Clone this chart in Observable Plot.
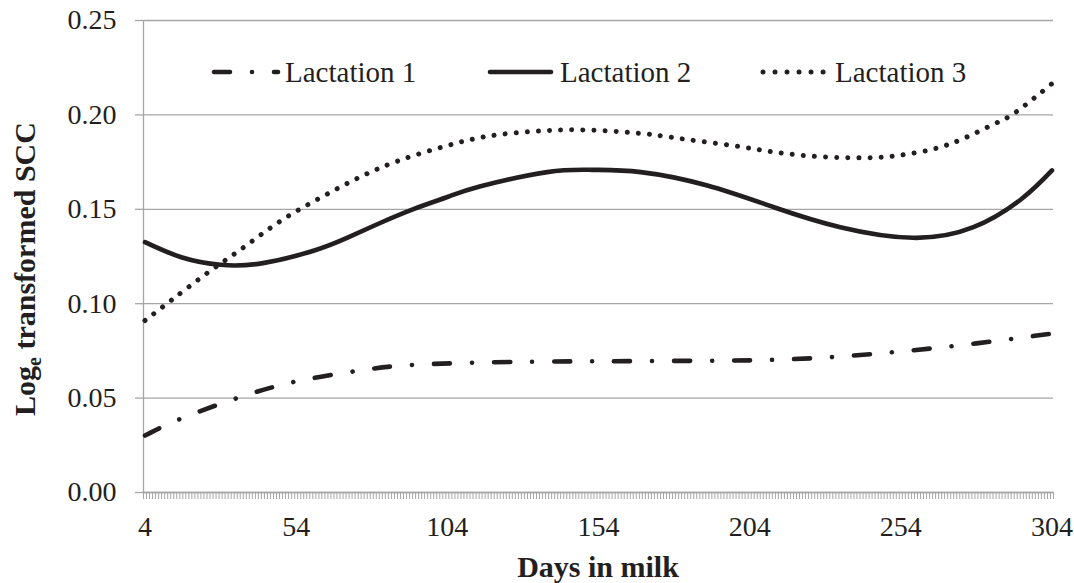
<!DOCTYPE html>
<html>
<head>
<meta charset="utf-8">
<script src="https://cdn.jsdelivr.net/npm/d3@7"></script>
<script src="https://cdn.jsdelivr.net/npm/@observablehq/plot@0.6"></script>
<style>
  html, body { margin: 0; padding: 0; background: #fff; }
  #chart { width: 1074px; height: 583px; }
</style>
</head>
<body>
<div id="chart"></div>
<script>
// ---- data ----
const seriesNames = ["Lactation 1", "Lactation 2", "Lactation 3"];

const lact1Days = [4, 16, 35, 54, 75, 95, 128, 154, 179, 204, 229, 254, 279, 304];
const lact1Vals = [0.0302, 0.0392, 0.0503, 0.0588, 0.0646, 0.0678, 0.0692, 0.0695, 0.0697, 0.0700, 0.0715, 0.0747, 0.0790, 0.0842];

const lact2Days = [4, 16, 29, 43, 60, 71, 81, 93, 104, 115, 137, 152, 168, 190, 212, 234, 258, 278, 294, 304];
const lact2Vals = [0.1326, 0.1246, 0.1206, 0.1215, 0.1282, 0.1350, 0.1422, 0.1502, 0.1565, 0.1622, 0.1697, 0.1709, 0.1697, 0.1626, 0.1511, 0.1405, 0.1349, 0.1405, 0.1556, 0.1706];

const lact3Days = [4, 13, 25, 37, 49, 62, 75, 88, 103, 117, 132, 147, 162, 173, 184, 199, 213, 228, 243, 254, 265, 275, 285, 292, 304];
const lact3Vals = [0.0911, 0.1022, 0.1167, 0.1303, 0.1440, 0.1561, 0.1670, 0.1758, 0.1833, 0.1886, 0.1912, 0.1921, 0.1910, 0.1893, 0.1868, 0.1836, 0.1801, 0.1778, 0.1773, 0.1787, 0.1820, 0.1877, 0.1953, 0.2014, 0.2166];

const xTickLabels = [4, 54, 104, 154, 204, 254, 304];
const yTickValues = [0, 0.05, 0.10, 0.15, 0.20, 0.25];
const firstDay = 4, lastDay = 304;

// ---- styles ----
const ink = "#231f20";
const gray = "#a6a6a6";
const lineW = 4.6;
const dashes = ["16,22,0.01,22", null, "0.01,11.1"];

const toRows = (days, vals, s) => days.map((d, i) => ({day: d, value: vals[i], series: s}));
const rows1 = toRows(lact1Days, lact1Vals, seriesNames[0]);
const rows2 = toRows(lact2Days, lact2Vals, seriesNames[1]);
const rows3 = toRows(lact3Days, lact3Vals, seriesNames[2]);

// category boundaries (one minor tick per day, Excel-like category axis)
const boundaries = d3.range(firstDay - 0.5, lastDay + 1, 1);

const lineOpts = (dash, w) => ({
  x: "day", y: "value", stroke: ink, strokeWidth: w,
  curve: "natural", strokeLinecap: "round", strokeLinejoin: "round",
  ...(dash ? {strokeDasharray: dash} : {})
});

const chart = Plot.plot({
  width: 1074,
  height: 583,
  marginLeft: 143,
  marginRight: 21,
  marginTop: 20,
  marginBottom: 91,
  style: {fontFamily: "'Liberation Serif', 'Times New Roman', serif", fontSize: "28px", color: ink, background: "#fff", overflow: "visible"},
  x: {domain: [firstDay - 0.5, lastDay + 0.5]},
  y: {domain: [0, 0.25]},
  marks: [
    Plot.gridY(yTickValues, {stroke: gray, strokeOpacity: 1, strokeWidth: 1.3}),
    Plot.axisY(yTickValues, {tickSize: 8, tickPadding: 19, tickFormat: d => d.toFixed(2), stroke: gray, strokeWidth: 1.3, strokeOpacity: 1, fill: ink, fontSize: 28, label: null}),
    Plot.axisX(boundaries, {tickSize: 7, tickFormat: () => "", stroke: gray, strokeWidth: 1, strokeOpacity: 1, label: null}),
    Plot.axisX(xTickLabels, {tickSize: 0, tickPadding: 24, fill: ink, fontSize: 28, label: null}),
    Plot.ruleX([firstDay - 0.5], {stroke: gray, strokeWidth: 1.3}),
    Plot.ruleY([0], {stroke: gray, strokeWidth: 1.3}),
    Plot.line(rows1, lineOpts(dashes[0], lineW)),
    Plot.line(rows2, lineOpts(dashes[1], lineW)),
    Plot.line(rows3, lineOpts(dashes[2], 5))
  ]
});

document.getElementById("chart").appendChild(chart);

// ---- titles and legend added into the same SVG ----
const svg = d3.select(chart);
const font = "'Liberation Serif', 'Times New Roman', serif";

// x-axis title
svg.append("text")
  .attr("x", 598).attr("y", 577)
  .attr("text-anchor", "middle")
  .attr("font-family", font).attr("font-size", 30).attr("font-weight", "bold")
  .attr("fill", ink)
  .text("Days in milk");

// y-axis title with subscript e
const yt = svg.append("text")
  .attr("transform", "translate(35,269) rotate(-90)")
  .attr("text-anchor", "middle")
  .attr("font-family", font).attr("font-size", 30).attr("font-weight", "bold")
  .attr("fill", ink);
yt.append("tspan").text("Log");
yt.append("tspan").attr("font-size", 20).attr("dy", 6).text("e");
yt.append("tspan").attr("dy", -6).text(" transformed SCC");

// legend
const legendItems = [
  {x1: 214, x2: 278, tx: 285, dash: dashes[0], w: lineW},
  {x1: 490, x2: 551, tx: 560, dash: dashes[1], w: lineW},
  {x1: 763, x2: 823.1, tx: 835, dash: "0.01,12", w: 5}
];
const lg = svg.append("g");
legendItems.forEach((it, i) => {
  const ln = lg.append("line")
    .attr("x1", it.x1).attr("x2", it.x2).attr("y1", 72).attr("y2", 72)
    .attr("stroke", ink).attr("stroke-width", it.w).attr("stroke-linecap", "round");
  if (it.dash) ln.attr("stroke-dasharray", it.dash);
  lg.append("text")
    .attr("x", it.tx).attr("y", 82)
    .attr("text-anchor", "start")
    .attr("font-family", font).attr("font-size", 29).attr("fill", ink)
    .text(seriesNames[i]);
});
</script>
</body>
</html>
